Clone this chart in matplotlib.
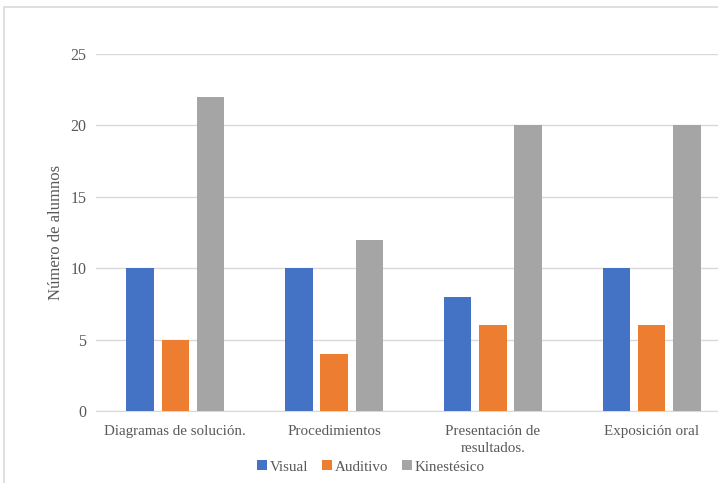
import matplotlib
matplotlib.use("Agg")
import matplotlib.pyplot as plt
from matplotlib.patches import Rectangle
import numpy as np

plt.rcParams['font.family'] = ['Liberation Serif', 'DejaVu Serif']

categorias = ['Diagramas de solución.', 'Procedimientos',
              'Presentación de\nresultados.', 'Exposición oral']
visual = [10, 10, 8, 10]
auditivo = [5, 4, 6, 6]
kinestesico = [22, 12, 20, 20]
series = ['Visual', 'Auditivo', 'Kinestésico']
colores = ['#4472C4', '#ED7D31', '#A5A5A5']

W, H = 718, 483
fig = plt.figure(figsize=(W / 100, H / 100), dpi=100)

# marco gris claro del area del grafico
fig.patches.append(Rectangle((4 / W, -0.05), 1.1, 1 - 7 / H + 0.05,
                             transform=fig.transFigure, fill=False,
                             edgecolor='#d9d9d9', linewidth=1.2))

ax = fig.add_axes([96 / W, 72 / H, 635 / W, 357 / H])

x = np.arange(len(categorias))
ancho = 0.173
paso = 0.222
for k, (datos, nombre, c) in enumerate(zip([visual, auditivo, kinestesico], series, colores)):
    ax.bar(x + (k - 1) * paso, datos, ancho, color=c, label=nombre, zorder=3)

ax.set_xlim(-0.5, 3.5)
ax.set_ylim(0, 25)
ax.set_yticks(range(0, 26, 5))
ax.yaxis.grid(True, color='#d9d9d9', linewidth=1)
ax.set_axisbelow(True)
for s in ['top', 'right', 'left']:
    ax.spines[s].set_visible(False)
ax.spines['bottom'].set_color('#d9d9d9')
ax.tick_params(axis='both', length=0, colors='#595959')
ax.tick_params(axis='y', pad=7, labelsize=11.5)
ax.tick_params(axis='x', pad=10, labelsize=10.8)
ax.set_xticks(x)
ax.set_xticklabels(categorias, linespacing=1.45)
ax.set_ylabel('Número de alumnos', fontsize=12, color='#595959')
ax.yaxis.set_label_coords(-32 / 635, 0.5)

leg = fig.legend(loc='center', bbox_to_anchor=(371 / W, 1 - 467 / H), ncol=3,
                 frameon=False, fontsize=10.8, handlelength=0.65, handleheight=0.65,
                 handletextpad=0.2, columnspacing=0.9)
for t in leg.get_texts():
    t.set_color('#595959')

fig.savefig('out.png', dpi=100)
